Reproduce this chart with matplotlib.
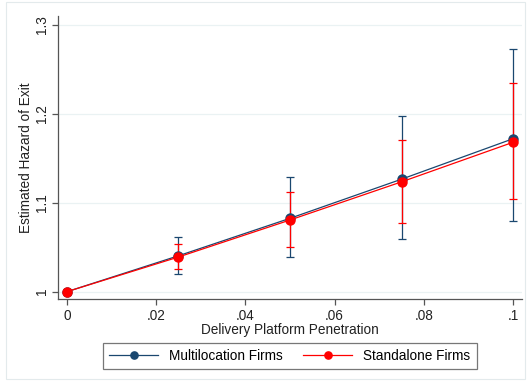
import matplotlib
matplotlib.use('Agg')
import matplotlib.pyplot as plt
from matplotlib.patches import Rectangle

# penetration levels
penetration = [0.0, 0.025, 0.05, 0.075, 0.1]

# Multilocation firms: point estimate and 95% CI
multi_est = [1.0, 1.0404, 1.0825, 1.1265, 1.172]
multi_lo = [1.0, 1.0196, 1.039, 1.059, 1.080]
multi_hi = [1.0, 1.062, 1.1285, 1.198, 1.273]

# Standalone firms
stand_est = [1.0, 1.039, 1.0806, 1.1235, 1.168]
stand_lo = [1.0, 1.025, 1.0506, 1.077, 1.104]
stand_hi = [1.0, 1.054, 1.112, 1.171, 1.234]

x_ticks = [0, 0.02, 0.04, 0.06, 0.08, 0.1]
x_tick_labels = ['0', '.02', '.04', '.06', '.08', '.1']
y_ticks = [1.0, 1.1, 1.2, 1.3]
y_tick_labels = ['1', '1.1', '1.2', '1.3']

NAVY = '#1a476f'
RED = '#ff0000'
FS = 9.8

plt.rcParams['font.family'] = ['Liberation Sans', 'DejaVu Sans']

fig = plt.figure(figsize=(5.27, 3.81), dpi=100)
fig.patch.set_facecolor('white')
fig.add_artist(Rectangle((0.012, 0.005), 0.985, 0.99, transform=fig.transFigure,
                         fill=False, edgecolor='#e3eaec', linewidth=0.8))

ax = fig.add_axes([0.1106, 0.2144, 0.8794, 0.7436])


def draw(est, lo, hi, color, label):
    yerr = [[e - l for e, l in zip(est, lo)], [h - e for e, h in zip(est, hi)]]
    ax.errorbar(penetration, est, yerr=yerr, fmt='none', ecolor=color,
                elinewidth=0.9, capsize=3, capthick=0.9, zorder=3)
    ax.plot(penetration, est, color=color, linewidth=0.9, marker='o',
            markersize=6.5, markerfacecolor=color, markeredgecolor=color,
            label=label, zorder=4)


draw(multi_est, multi_lo, multi_hi, NAVY, 'Multilocation Firms')
draw(stand_est, stand_lo, stand_hi, RED, 'Standalone Firms')

ax.set_xlim(-0.0019, 0.1019)
ax.set_ylim(0.9915, 1.3098)
ax.set_xticks(x_ticks)
ax.set_xticklabels(x_tick_labels)
ax.set_yticks(y_ticks)
ax.set_yticklabels(y_tick_labels, rotation=90, va='center')

ax.grid(axis='y', color='#eaf2f3', linewidth=0.9, zorder=0)
for side in ('top', 'right'):
    ax.spines[side].set_visible(False)
for side in ('left', 'bottom'):
    ax.spines[side].set_color('#555555')
    ax.spines[side].set_linewidth(0.9)
ax.tick_params(axis='both', direction='out', length=4, width=0.9,
               color='#555555', labelsize=FS, labelcolor='#222222', pad=3)

ax.set_xlabel('Delivery Platform Penetration', fontsize=FS, color='#222222', labelpad=0)
ax.set_ylabel('Estimated Hazard of Exit', fontsize=FS, color='#222222', labelpad=1)

leg = fig.legend(loc='center', bbox_to_anchor=(0.55, 0.066), ncol=2,
                 frameon=True, fancybox=False, fontsize=FS, handlelength=3.6,
                 markerscale=0.8, columnspacing=1.5, borderpad=0.45,
                 handletextpad=0.8)
leg.get_frame().set_edgecolor('#555555')
leg.get_frame().set_linewidth(0.9)

fig.savefig('out.png', dpi=100)
